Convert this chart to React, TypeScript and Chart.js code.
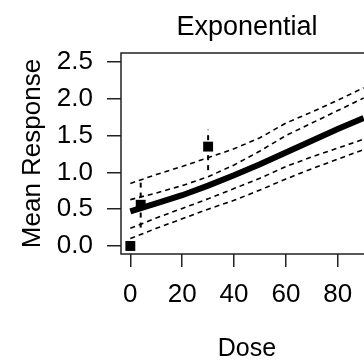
import React, { useEffect, useRef } from "react";
import { Chart, registerables } from "chart.js";

Chart.register(...registerables);

// Observed data
const obsDose = [0, 4, 30];
const obsMean = [0.0, 0.56, 1.35];
const obsLo = [0.0, 0.25, 1.03];
const obsHi = [0.0, 0.86, 1.58];

// Fitted curve and bands
const fitDose = [0, 10, 20, 30, 40, 50, 60, 70, 80, 90];
const fitMean = [0.47, 0.58, 0.69, 0.82, 0.96, 1.11, 1.27, 1.43, 1.59, 1.74];
const upperInner = [0.63, 0.72, 0.82, 0.94, 1.1, 1.29, 1.5, 1.67, 1.84, 2.01];
const lowerInner = [0.24, 0.38, 0.51, 0.64, 0.78, 0.92, 1.08, 1.21, 1.33, 1.45];
const upperOuter = [0.85, 0.97, 1.08, 1.2, 1.32, 1.47, 1.67, 1.82, 1.98, 2.15];
const lowerOuter = [0.1, 0.24, 0.37, 0.5, 0.62, 0.76, 0.91, 1.05, 1.18, 1.31];

const xTicks = [0, 20, 40, 60, 80];
const yTicks = [0, 0.5, 1.0, 1.5, 2.0, 2.5];

const FONT = "'Liberation Sans', Arial, sans-serif";
const INK = "#000";

const boxPlugin = {
  id: "rbox",
  afterDatasetsDraw(chart: any) {
    const { ctx, chartArea } = chart;
    ctx.save();
    ctx.strokeStyle = "#222";
    ctx.lineWidth = 1.5;
    ctx.strokeRect(chartArea.left, chartArea.top, chartArea.right - chartArea.left, chartArea.bottom - chartArea.top);
    ctx.restore();
  },
};

export default function App() {
  const ref = useRef<HTMLCanvasElement | null>(null);
  useEffect(() => {
    if (!ref.current) return;
    const toXY = (xs: number[], ys: number[]) => xs.map((x, i) => ({ x, y: ys[i] }));
    const dashed = (data: number[]) => ({
      type: "line" as const,
      data: toXY(fitDose, data),
      borderColor: INK,
      borderWidth: 1.6,
      borderDash: [5, 4],
      pointRadius: 0,
      fill: false,
    });
    const errBars = obsDose
      .map((d, i) => ({ d, lo: obsLo[i], hi: obsHi[i] }))
      .filter((e) => e.hi > e.lo)
      .map((e) => ({
        type: "line" as const,
        data: [
          { x: e.d, y: e.lo },
          { x: e.d, y: e.hi },
        ],
        borderColor: INK,
        borderWidth: 2,
        borderDash: [5, 5],
        pointRadius: 0,
        fill: false,
      }));
    const chart = new Chart(ref.current, {
      type: "line",
      data: {
        datasets: [
          {
            type: "line",
            data: toXY(fitDose, fitMean),
            borderColor: INK,
            borderWidth: 6,
            pointRadius: 0,
            fill: false,
          },
          dashed(upperInner),
          dashed(lowerInner),
          dashed(upperOuter),
          dashed(lowerOuter),
          ...errBars,
          {
            type: "scatter",
            data: toXY(obsDose, obsMean),
            backgroundColor: INK,
            borderColor: INK,
            pointStyle: "rect",
            pointRadius: 7,
            borderWidth: 0,
          },
        ] as any,
      },
      options: {
        animation: false,
        responsive: false,
        layout: { padding: { left: 0, right: 4, top: 0, bottom: 0 } },
        plugins: {
          legend: { display: false },
          tooltip: { enabled: false },
          title: {
            display: true,
            text: "Exponential",
            fullSize: false,
            color: INK,
            font: { family: FONT, size: 27, weight: "normal", lineHeight: 1.2 },
            padding: { top: 11, bottom: 9.6 },
          },
        },
        scales: {
          x: {
            type: "linear",
            min: -3.6,
            max: 93.6,
            afterBuildTicks: (s: any) => {
              s.ticks = xTicks.map((v) => ({ value: v }));
            },
            afterFit: (s: any) => {
              s.height = 106;
            },
            grid: { drawOnChartArea: false, drawTicks: true, tickLength: 13, color: "#222", lineWidth: 1.5 },
            border: { display: false },
            ticks: {
              color: INK,
              font: { family: FONT, size: 26 },
              padding: 12,
              maxRotation: 0,
              autoSkip: false,
              callback: (v: any) => String(v),
            },
            title: {
              display: true,
              text: "Dose",
              color: INK,
              font: { family: FONT, size: 25, lineHeight: 0.8 },
              padding: { top: 0, bottom: 1 },
            },
          },
          y: {
            type: "linear",
            min: -0.109,
            max: 2.622,
            afterBuildTicks: (s: any) => {
              s.ticks = yTicks.map((v) => ({ value: v }));
            },
            afterFit: (s: any) => {
              s.width = 121;
            },
            grid: { drawOnChartArea: false, drawTicks: true, tickLength: 14, color: "#222", lineWidth: 1.5 },
            border: { display: false },
            ticks: {
              color: INK,
              font: { family: FONT, size: 26 },
              padding: 14,
              autoSkip: false,
              callback: (v: any) => Number(v).toFixed(1),
            },
            title: {
              display: true,
              text: "Mean Response",
              color: INK,
              font: { family: FONT, size: 26, lineHeight: 1 },
              padding: { top: 20, bottom: 0 },
            },
          },
        },
      },
      plugins: [boxPlugin],
    });
    return () => chart.destroy();
  }, []);
  return (
    <div style={{ position: "fixed", left: 0, top: 0, width: 364, height: 360, overflow: "hidden", background: "#fff" }}>
      <canvas ref={ref} width={380} height={360} style={{ width: 380, height: 360, display: "block" }} />
    </div>
  );
}
